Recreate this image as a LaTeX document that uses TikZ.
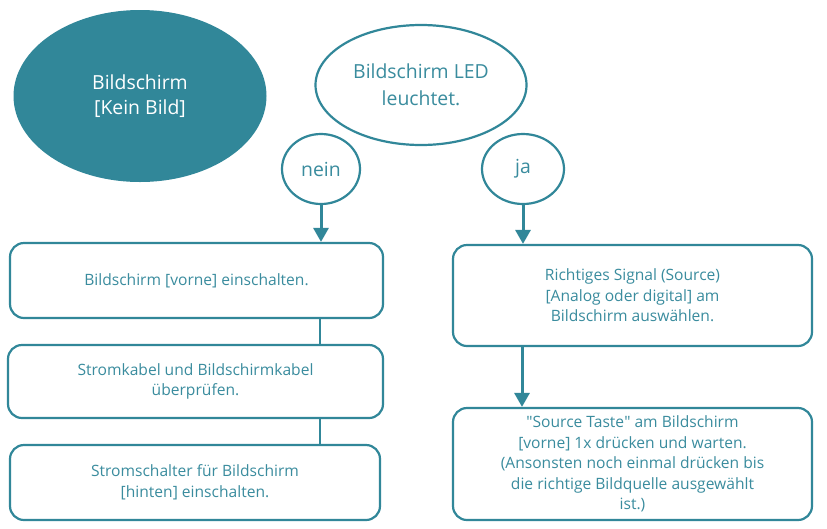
\documentclass[tikz,border=0pt]{standalone}
\usepackage{fontspec}
\setmainfont{Open Sans}
\usetikzlibrary{shapes.geometric,arrows.meta}
\definecolor{teal}{HTML}{318799}
\definecolor{tealtext}{HTML}{3A8C9E}
\tikzset{
  stepbox/.style={draw=teal, line width=2.2pt, rounded corners=14pt, fill=white,
    text=tealtext, align=center, font=\fontsize{15.6}{20.5}\selectfont, inner sep=0pt},
  bubble/.style={ellipse, draw=teal, line width=2.2pt, text=tealtext, align=center,
    font=\fontsize{19.4}{27}\selectfont, inner sep=0pt},
  conn/.style={draw=teal, line width=2.2pt},
  arr/.style={draw=teal, line width=3pt, -{Triangle[length=14pt,width=15pt]}},
}
\begin{document}
\begin{tikzpicture}[x=1pt,y=-1pt]
\useasboundingbox[fill=white] (0,0) rectangle (827,528);
% start ellipse
\node[ellipse, fill=teal, text=white, align=center, font=\fontsize{19.4}{25}\selectfont,
  minimum width=253pt, minimum height=172pt, inner sep=0pt] (start) at (140,96)
  {Bildschirm\\{[}Kein Bild{]}};
\node[bubble, minimum width=211pt, minimum height=120pt] (led) at (421,85)
  {Bildschirm LED\\leuchtet.};
\node[bubble, minimum width=78pt, minimum height=70pt] (nein) at (321,169) {nein};
\node[bubble, minimum width=82pt, minimum height=70pt] (ja) at (523,169) {ja};
% left boxes
\node[stepbox, minimum width=373pt, minimum height=75pt] (b1) at (196.5,280.5)
  {Bildschirm [vorne] einschalten.};
\node[stepbox, minimum width=375pt, minimum height=73pt] (b2) at (195.5,381.5)
  {Stromkabel und Bildschirmkabel\\überprüfen.};
\node[stepbox, minimum width=370pt, minimum height=75pt] (b3) at (195,482.5)
  {Stromschalter für Bildschirm\\{[}hinten{]} einschalten.};
% right boxes
\node[stepbox, minimum width=359pt, minimum height=101pt] (b4) at (632.5,295.5)
  {Richtiges Signal (Source)\\{[}Analog oder digital{]} am\\Bildschirm auswählen.};
\node[stepbox, minimum width=359pt, minimum height=112pt] (b5) at (632.5,464)
  {\textquotedbl Source Taste\textquotedbl{} am Bildschirm\\{[}vorne{]} 1x drücken und warten.\\(Ansonsten noch einmal drücken bis\\die richtige Bildquelle ausgewählt\\ist.)};
% connectors
\draw[arr] (nein.south) -- (nein.south |- b1.north);
\draw[arr] (ja.south) -- (ja.south |- b4.north);
\coordinate (c1) at (320,0);
\draw[conn] (c1 |- b1.south) -- (c1 |- b2.north);
\draw[conn] (c1 |- b2.south) -- (c1 |- b3.north);
\coordinate (c2) at (522,0);
\draw[arr] (c2 |- b4.south) -- (c2 |- b5.north);
\end{tikzpicture}
\end{document}
